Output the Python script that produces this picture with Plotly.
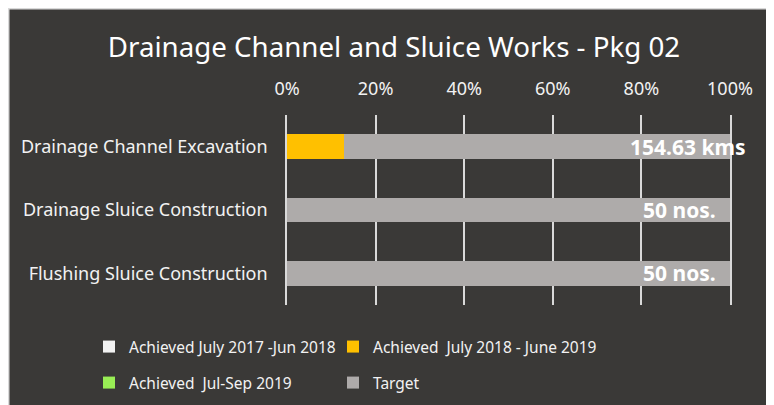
import plotly.graph_objects as go

categories = ["Drainage Channel Excavation", "Drainage Sluice Construction", "Flushing Sluice Construction"]
achieved_2017_18 = [0, 0, 0]
achieved_2018_19 = [12.9, 0, 0]
achieved_jul_sep_2019 = [0, 0, 0]
target = [87.1, 100, 100]
target_labels = ["154.63 kms", "50 nos.", "50 nos."]
tick_vals = [0, 20, 40, 60, 80, 100]
tick_text = ["0%", "20%", "40%", "60%", "80%", "100%"]

BG = "#3a3937"
FONT = "Noto Sans"
TXT = "#f2f2f2"
GRID = "#d9d9d9"

W, H = 774, 405
L, R, T, B = 279, 52, 107, 108
PW, PH = W - L - R, H - T - B

def px_x(p):
    return (p - L) / PW

def px_y(p):
    return (H - B - p) / PH

fig = go.Figure()
series = [
    ("Achieved July 2017 -Jun 2018", achieved_2017_18, "#f2f2f2", "legend"),
    ("Achieved  July 2018 - June 2019", achieved_2018_19, "#ffc000", "legend2"),
    ("Achieved  Jul-Sep 2019", achieved_jul_sep_2019, "#99ee55", "legend3"),
    ("Target", target, "#aeabaa", "legend4"),
]
for name, vals, col, lg in series:
    fig.add_trace(go.Bar(
        y=categories, x=vals, name=name, orientation="h",
        marker=dict(color=col, line=dict(width=0)),
        legend=lg, hoverinfo="skip",
    ))

label_x = [90.5, 88.5, 88.5]
for cat, lab, lx in zip(categories, target_labels, label_x):
    fig.add_annotation(x=lx, y=cat, xref="x", yref="y", text="<b>" + lab + "</b>",
                       showarrow=False, font=dict(family=FONT, size=21, color="#ffffff"),
                       xanchor="center", yanchor="middle")

shapes = [
    dict(type="rect", xref="paper", yref="paper", x0=px_x(0), x1=px_x(W), y0=px_y(0), y1=px_y(1.5),
         fillcolor=GRID, line=dict(width=0), layer="below"),
    dict(type="rect", xref="paper", yref="paper", x0=px_x(0), x1=px_x(1.5), y0=px_y(0), y1=px_y(H),
         fillcolor=GRID, line=dict(width=0), layer="below"),
]

legend_common = dict(orientation="h", xanchor="left", yanchor="middle",
                     bgcolor="rgba(0,0,0,0)",
                     font=dict(family=FONT, size=15.5, color=TXT))

fig.update_layout(
    width=W, height=H,
    margin=dict(l=L, r=R, t=T, b=B),
    paper_bgcolor=BG, plot_bgcolor=BG,
    barmode="stack", bargap=0.61,
    font=dict(family=FONT, color=TXT, size=18),
    title=dict(text="Drainage Channel and Sluice Works - Pkg 02", x=386 / W, xanchor="center",
               y=1 - 39 / H, yanchor="middle", font=dict(family=FONT, size=27.7, color="#ffffff")),
    xaxis=dict(range=[0, 100], side="top", tickvals=tick_vals, ticktext=tick_text,
               showgrid=True, gridcolor=GRID, gridwidth=1.5, zeroline=False,
               tickfont=dict(family=FONT, size=18, color=TXT), ticks="", showline=False,
               ticklabelstandoff=15, fixedrange=True),
    yaxis=dict(autorange="reversed", tickfont=dict(family=FONT, size=18, color=TXT),
               ticks="", showgrid=False, zeroline=False, ticklabelstandoff=14, fixedrange=True,
               showline=True, mirror=True, linecolor=GRID, linewidth=1.5, layer="below traces"),
    legend=dict(x=px_x(81), y=px_y(339), **legend_common),
    legend2=dict(x=px_x(325), y=px_y(339), **legend_common),
    legend3=dict(x=px_x(81), y=px_y(375), **legend_common),
    legend4=dict(x=px_x(325), y=px_y(375), **legend_common),
    shapes=shapes,
    showlegend=True,
)

fig.write_html("out.html")
